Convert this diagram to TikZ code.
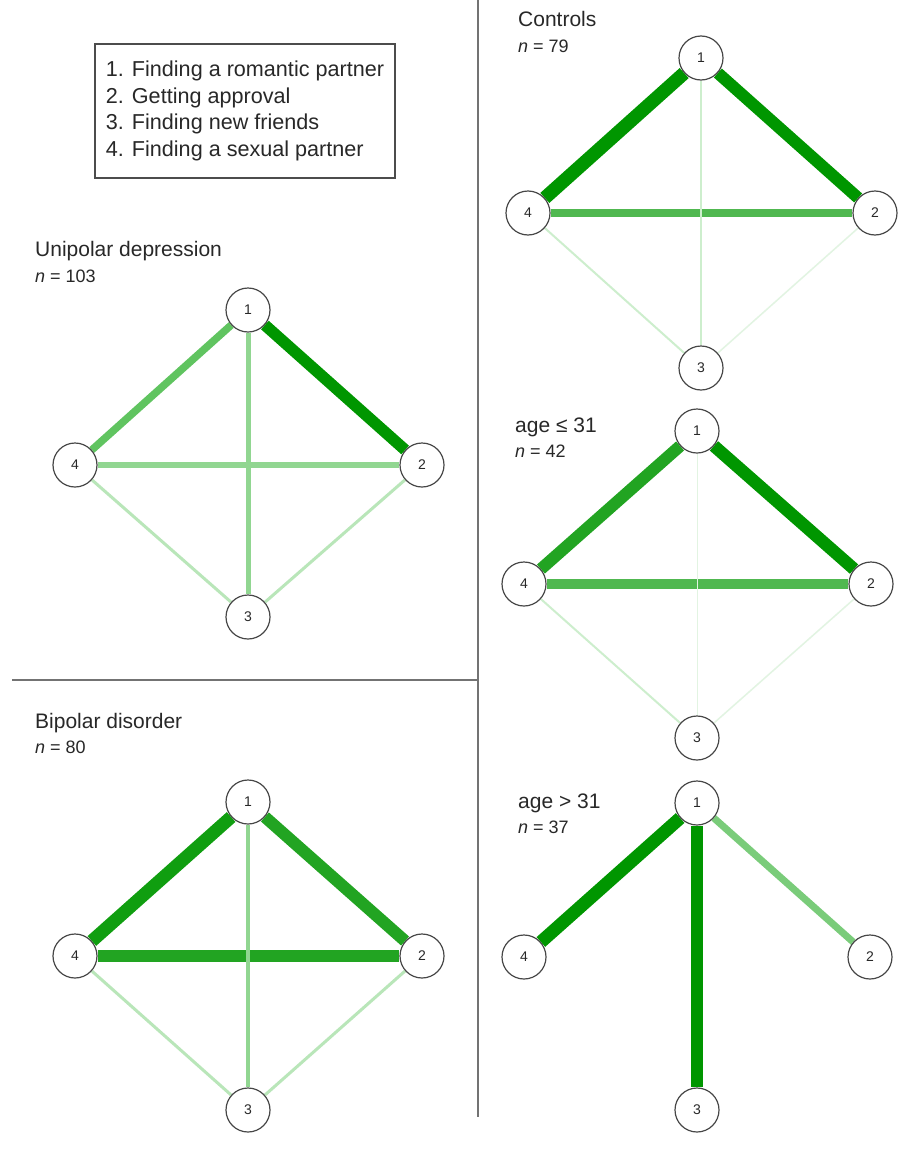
\documentclass[tikz,border=0pt]{standalone}
\usepackage{fontspec}
\setmainfont{Liberation Sans}
\pgfdeclarelayer{paper}
\pgfdeclarelayer{bg}
\pgfsetlayers{paper,bg,main}
\definecolor{gA}{RGB}{0,150,0}
\definecolor{gB}{RGB}{16,158,16}
\definecolor{gC}{RGB}{34,164,34}
\definecolor{gD}{RGB}{80,184,80}
\definecolor{gE}{RGB}{96,196,96}
\definecolor{gF}{RGB}{122,204,122}
\definecolor{gG}{RGB}{145,214,145}
\definecolor{gH}{RGB}{185,230,185}
\definecolor{gI}{RGB}{205,238,205}
\definecolor{gJ}{RGB}{226,244,226}
\definecolor{txt}{RGB}{40,40,40}
\tikzset{
  nd/.style={circle, draw=black!72, line width=1.2pt, fill=white, minimum size=44pt, inner sep=0pt, font=\fontsize{14}{14}\selectfont, text=txt},
  ttl/.style={anchor=base west, inner sep=0pt, font=\fontsize{21}{25}\selectfont, text=txt},
  nlab/.style={anchor=base west, inner sep=0pt, font=\fontsize{18}{22}\selectfont, text=txt},
  sepline/.style={draw=black!55, line width=1.4pt},
  legbox/.style={draw=black!70, line width=1.3pt, minimum width=300pt, minimum height=134pt, align=left, inner sep=0pt, font=\fontsize{21.6}{26.5}\selectfont, text=txt}
}
\begin{document}
\begin{tikzpicture}[x=1pt,y=-1pt]
\useasboundingbox (0,0) rectangle (907,1159);
\begin{pgfonlayer}{paper}
\fill[white] (0,0) rectangle (907,1159);
\end{pgfonlayer}

% separators
\coordinate (vt) at (478,0);
\coordinate (vb) at (478,1117);
\coordinate (hl) at (12,680);
\coordinate (hr) at (478,680);
\draw[sepline] (vt) -- (vb);
\draw[sepline] (hl) -- (hr);

% legend
\node[legbox] (leg) at (245,111) {1. Finding a romantic partner\\2. Getting approval\\3. Finding new friends\\4. Finding a sexual partner};

% ---------- Unipolar depression
\node[ttl] (tu) at (35,256) {Unipolar depression};
\node[nlab] (nu) at (35,282) {\textit{n} = 103};
\node[nd] (u1) at (248,310) {1};
\node[nd] (u2) at (422,465) {2};
\node[nd] (u3) at (248,617) {3};
\node[nd] (u4) at (75,465) {4};
\begin{pgfonlayer}{bg}
\draw[line width=11.5pt, gA] (u1) -- (u2);
\draw[line width=7.5pt, gE] (u1) -- (u4);
\draw[line width=6pt, gG] (u4) -- (u2);
\draw[line width=5pt, gG] (u1) -- (u3);
\draw[line width=3pt, gH] (u4) -- (u3);
\draw[line width=3pt, gH] (u3) -- (u2);
\end{pgfonlayer}

% ---------- Bipolar disorder
\node[ttl] (tb) at (35,728) {Bipolar disorder};
\node[nlab] (nb) at (35,753) {\textit{n} = 80};
\node[nd] (b1) at (248,802) {1};
\node[nd] (b2) at (422,956) {2};
\node[nd] (b3) at (248,1110) {3};
\node[nd] (b4) at (75,956) {4};
\begin{pgfonlayer}{bg}
\draw[line width=13pt, gB] (b1) -- (b4);
\draw[line width=12pt, gC] (b1) -- (b2);
\draw[line width=11.5pt, gC] (b4) -- (b2);
\draw[line width=4pt, gG] (b1) -- (b3);
\draw[line width=3pt, gH] (b4) -- (b3);
\draw[line width=3pt, gH] (b3) -- (b2);
\end{pgfonlayer}

% ---------- Controls
\node[ttl] (tc) at (518,27) {Controls};
\node[nlab] (nc) at (518,52) {\textit{n} = 79};
\node[nd] (c1) at (701,58) {1};
\node[nd] (c2) at (875,213) {2};
\node[nd] (c3) at (701,368) {3};
\node[nd] (c4) at (528,213) {4};
\begin{pgfonlayer}{bg}
\draw[line width=13.5pt, gA] (c1) -- (c4);
\draw[line width=12pt, gA] (c1) -- (c2);
\draw[line width=8.5pt, gD] (c4) -- (c2);
\draw[line width=2pt, gI] (c1) -- (c3);
\draw[line width=2pt, gI] (c4) -- (c3);
\draw[line width=1.5pt, gJ] (c3) -- (c2);
\end{pgfonlayer}

% ---------- age <= 31
\node[ttl] (ty) at (515,432) {age ≤ 31};
\node[nlab] (ny) at (515,457) {\textit{n} = 42};
\node[nd] (y1) at (697,431) {1};
\node[nd] (y2) at (871,584) {2};
\node[nd] (y3) at (697,738) {3};
\node[nd] (y4) at (524,584) {4};
\begin{pgfonlayer}{bg}
\draw[line width=12pt, gC] (y1) -- (y4);
\draw[line width=12.5pt, gA] (y1) -- (y2);
\draw[line width=9.5pt, gD] (y4) -- (y2);
\draw[line width=1pt, gJ] (y1) -- (y3);
\draw[line width=2pt, gI] (y4) -- (y3);
\draw[line width=1.5pt, gJ] (y3) -- (y2);
\end{pgfonlayer}

% ---------- age > 31
\node[ttl] (to) at (518,808) {age > 31};
\node[nlab] (no) at (518,833) {\textit{n} = 37};
\node[nd] (o1) at (697,803) {1};
\node[nd] (o2) at (870,957) {2};
\node[nd] (o3) at (697,1110) {3};
\node[nd] (o4) at (524,957) {4};
\begin{pgfonlayer}{bg}
\draw[line width=13pt, gA] (o1) -- (o4);
\draw[line width=11.5pt, gA] (o1) -- (o3);
\draw[line width=7pt, gF] (o1) -- (o2);
\end{pgfonlayer}
\end{tikzpicture}
\end{document}
